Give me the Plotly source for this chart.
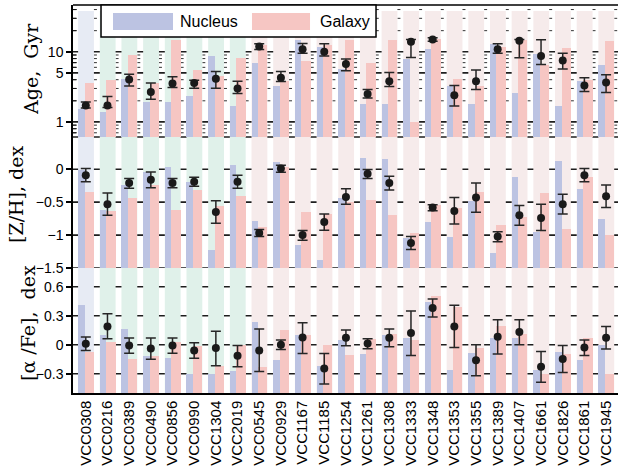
import math
import plotly.graph_objects as go
from plotly.subplots import make_subplots

galaxies = ["VCC0308", "VCC0216", "VCC0389", "VCC0490", "VCC0856", "VCC0990", "VCC1304",
            "VCC2019", "VCC0545", "VCC0929", "VCC1167", "VCC1185", "VCC1254", "VCC1261",
            "VCC1308", "VCC1333", "VCC1348", "VCC1353", "VCC1355", "VCC1389", "VCC1407",
            "VCC1661", "VCC1826", "VCC1861", "VCC1945"]
groups = ["a"] + ["b"] * 7 + ["c"] * 17

# Age, Gyr
age_nuc = [1.55, 1.39, 4.07, 1.93, 1.93, 2.33, 8.68, 1.68, 6.97, 3.24, 14.7, 11.7, 5.66,
           1.79, 1.79, 7.87, 10.9, 3.24, 1.79, 12.9, 2.57, 9.18, 1.68, 3.81, 6.45]
age_gal = [3.6, 3.94, 8.97, 3.54, 14.7, 5.48, 4.5, 8.13, 12.5, 3.81, 7.36, 12.5, 14.7,
           6.97, 14.7, 0.99, 15.0, 4.07, 3.24, 11.8, 14.7, 6.45, 11.2, 3.94, 14.4]
age_pt = [1.71, 1.71, 4.04, 2.68, 3.54, 3.6, 4.11, 3.0, 11.9, 4.25, 10.9, 10.0, 6.67,
          2.51, 3.81, 13.9, 15.0, 2.4, 3.81, 10.9, 14.4, 8.68, 7.54, 3.31, 3.66]
age_hi = [1.93, 2.31, 4.8, 3.6, 4.4, 3.94, 5.25, 3.81, 13.0, 5.25, 13.1, 13.0, 7.9,
          2.9, 5.08, 15.0, 15.8, 3.31, 5.48, 13.0, 15.0, 14.9, 9.5, 4.25, 4.69]
age_lo = [1.58, 1.61, 3.24, 2.11, 3.1, 3.03, 3.03, 2.55, 10.8, 3.77, 9.5, 8.7, 5.35,
          2.2, 3.2, 8.3, 14.1, 1.69, 2.9, 9.5, 8.2, 6.6, 5.7, 2.72, 2.63]

# [Z/H], dex
zh_nuc = [-0.01, -0.62, -0.24, -0.04, 0.04, -0.19, -1.23, 0.07, -0.78, 0.11, -1.15, -1.38,
          -0.44, 0.17, 0.16, -1.05, -0.80, -1.03, -0.48, -1.27, -0.12, -0.95, 0.13, -0.30, -0.76]
zh_gal = [-0.34, -0.635, -0.43, -0.24, -0.62, -0.315, -0.56, -0.41, -0.88, 0.03, -0.645,
          -0.68, -0.49, -0.47, -0.70, -0.97, -0.54, -0.59, -0.345, -0.85, -0.73, -0.36,
          -0.91, -0.12, -1.0]
zh_pt = [-0.09, -0.53, -0.21, -0.16, -0.21, -0.19, -0.65, -0.19, -0.97, 0.01, -1.0, -0.80,
         -0.42, -0.07, -0.21, -1.12, -0.58, -0.635, -0.43, -1.02, -0.70, -0.74, -0.53, -0.09, -0.41]
zh_hi = [0.01, -0.36, -0.14, -0.04, -0.14, -0.12, -0.48, -0.09, -0.915, 0.06, -0.93, -0.68,
         -0.295, -0.005, -0.107, -1.02, -0.54, -0.43, -0.21, -0.95, -0.55, -0.53, -0.38, 0.01, -0.24]
zh_lo = [-0.19, -0.70, -0.29, -0.28, -0.28, -0.26, -0.82, -0.29, -1.02, -0.046, -1.08, -0.925,
         -0.53, -0.14, -0.315, -1.22, -0.63, -0.83, -0.655, -1.10, -0.85, -0.93, -0.68, -0.19, -0.58]

# [alpha/Fe], dex
af_nuc = [0.416, 0.097, 0.167, -0.114, -0.135, -0.30, -0.30, -0.27, 0.24, -0.156, 0.097,
          -0.218, 0.052, -0.10, 0.097, 0.073, 0.447, -0.26, -0.083, 0.073, 0.073, -0.26,
          -0.073, -0.156, 0.0]
af_gal = [-0.073, 0.028, -0.146, -0.114, 0.031, -0.01, -0.218, -0.007, -0.229, 0.149, 0.097,
          -0.007, -0.111, 0.062, 0.114, 0.045, 0.50, 0.388, -0.038, 0.19, 0.114, -0.30,
          -0.097, 0.073, -0.30]
af_pt = [0.01, 0.19, -0.007, -0.038, -0.007, -0.059, -0.035, -0.114, -0.059, 0.0, 0.076,
         -0.246, 0.073, 0.014, 0.073, 0.121, 0.38, 0.19, -0.16, 0.083, 0.132, -0.229,
         -0.149, -0.028, 0.073]
af_hi = [0.08, 0.32, 0.07, 0.07, 0.07, 0.02, 0.139, -0.007, 0.163, 0.049, 0.229, -0.09,
         0.153, 0.062, 0.163, 0.35, 0.475, 0.41, 0.0, 0.26, 0.26, -0.069, -0.007, 0.049, 0.19]
af_lo = [-0.06, 0.062, -0.087, -0.15, -0.087, -0.139, -0.218, -0.229, -0.277, -0.049, -0.09,
         -0.406, -0.01, -0.042, -0.021, -0.111, 0.288, -0.028, -0.32, -0.097, 0.0, -0.389,
         -0.288, -0.111, -0.045]

age_ticks = [1, 5, 10]
age_minor = [0.7, 0.8, 0.9, 2, 3, 4, 6, 7, 8, 9, 20, 30, 40]
zh_ticks = [0, -0.5, -1, -1.5]
zh_ticktext = ["0", "\u22120.5", "\u22121", "\u22121.5"]
af_ticks = [0.6, 0.3, 0, -0.3]
af_ticktext = ["0.6", "0.3", "0", "\u22120.3"]

C_NUC = "#BCC3E2"
C_GAL = "#F6C6C3"
SHADE = {"a": "#E7EBF4", "b": "#E0F1EA", "c": "#F6EBEB"}
GRID = "#1e1e1e"
FONT = "Liberation Sans, Arial, sans-serif"

AGE_RANGE = [-0.215, 1.667]
ZH_RANGE = [-1.5, 0.49]
AF_RANGE = [-0.5, 0.795]
XRANGE = [-0.59, 24.55]
COL_L, COL_R = -0.355, 0.375

fig = make_subplots(rows=3, cols=1, shared_xaxes=True, vertical_spacing=0,
                    row_heights=[132, 131, 125])

panels = [
    (1, age_nuc, age_gal, age_pt, age_hi, age_lo, 10 ** AGE_RANGE[0]),
    (2, zh_nuc, zh_gal, zh_pt, zh_hi, zh_lo, ZH_RANGE[0]),
    (3, af_nuc, af_gal, af_pt, af_hi, af_lo, AF_RANGE[0]),
]
for row, nuc, gal, pt, hi, lo, base in panels:
    fig.add_trace(go.Bar(x=galaxies, y=[v - base for v in nuc], base=base,
                         offset=-0.355, width=0.30, marker_color=C_NUC,
                         marker_line_width=0, showlegend=False, name="Nucleus"),
                  row=row, col=1)
    fig.add_trace(go.Bar(x=galaxies, y=[v - base for v in gal], base=base,
                         offset=-0.055, width=0.43, marker_color=C_GAL,
                         marker_line_width=0, showlegend=False, name="Galaxy"),
                  row=row, col=1)
    fig.add_trace(go.Scatter(
        x=galaxies, y=pt, mode="markers",
        marker=dict(color="#1a1a1a", size=8),
        error_y=dict(type="data", symmetric=False,
                     array=[h - p for h, p in zip(hi, pt)],
                     arrayminus=[p - l for p, l in zip(pt, lo)],
                     color="#262626", thickness=1.5, width=5),
        showlegend=False), row=row, col=1)

shapes = []
ax_names = [("x", "y"), ("x2", "y2"), ("x3", "y3")]


def age_dom(v):
    return (math.log10(v) - AGE_RANGE[0]) / (AGE_RANGE[1] - AGE_RANGE[0])


# minor dotted grid (panel 1), only visible in the gaps between columns
gap_edges = [(XRANGE[0], COL_L)] + [(i + COL_R, i + 1 + COL_L) for i in range(len(galaxies))]
for v in age_minor:
    d = age_dom(v)
    for x0, x1 in gap_edges:
        shapes.append(dict(type="line", xref="x", yref="y domain", x0=x0, x1=min(x1, XRANGE[1]),
                           y0=d, y1=d, line=dict(color="#333333", width=1, dash="dot"),
                           layer="below"))
    shapes.append(dict(type="line", xref="x domain", yref="y domain", x0=0, x1=0.007, y0=d, y1=d,
                       line=dict(color="#111111", width=1), layer="below"))
# major grid lines
for v in age_ticks:
    d = age_dom(v)
    shapes.append(dict(type="line", xref="x domain", yref="y domain", x0=0, x1=1, y0=d, y1=d,
                       line=dict(color=GRID, width=1.6), layer="below"))
shapes.append(dict(type="line", xref="x domain", yref="y domain", x0=0, x1=1, y0=0, y1=0,
                   line=dict(color=GRID, width=1.6), layer="below"))
for v in zh_ticks:
    shapes.append(dict(type="line", xref="x2 domain", yref="y2", x0=0, x1=1, y0=v, y1=v,
                       line=dict(color=GRID, width=1.6), layer="below"))
for v in af_ticks:
    shapes.append(dict(type="line", xref="x3 domain", yref="y3", x0=0, x1=1, y0=v, y1=v,
                       line=dict(color=GRID, width=1.6), layer="below"))

# column shading
for p, (xa, ya) in enumerate(ax_names):
    top = 0.955 if p == 0 else 1.0
    for i, g in enumerate(groups):
        shapes.append(dict(type="rect", xref=xa, yref=ya + " domain",
                           x0=i + COL_L, x1=i + COL_R, y0=0, y1=top,
                           fillcolor=SHADE[g], line=dict(width=0), layer="below"))

# top border
shapes.append(dict(type="line", xref="x domain", yref="y domain", x0=0, x1=1, y0=1, y1=1,
                   line=dict(color="black", width=1.5), layer="above"))

# legend box
shapes.append(dict(type="rect", xref="paper", yref="paper", x0=0.0514, x1=0.556,
                   y0=0.9175, y1=1.0, fillcolor="white",
                   line=dict(color="black", width=1.5), layer="above"))
shapes.append(dict(type="rect", xref="paper", yref="paper", x0=0.0734, x1=0.1835,
                   y0=0.9356, y1=0.9794, fillcolor=C_NUC, line=dict(width=0), layer="above"))
shapes.append(dict(type="rect", xref="paper", yref="paper", x0=0.3284, x1=0.4349,
                   y0=0.9356, y1=0.9794, fillcolor=C_GAL, line=dict(width=0), layer="above"))

annotations = [
    dict(text="Nucleus", xref="paper", yref="paper", x=0.1927, y=0.9575, xanchor="left",
         yanchor="middle", showarrow=False, font=dict(family=FONT, size=16, color="black")),
    dict(text="Galaxy", xref="paper", yref="paper", x=0.4495, y=0.9575, xanchor="left",
         yanchor="middle", showarrow=False, font=dict(family=FONT, size=16, color="black")),
]
TFONT = dict(family="DejaVu Serif, Liberation Serif, serif", size=19, color="black")
for txt, x, y in [("Age,  Gyr", -0.0771, 0.835),
                  ("[Z/H], dex", -0.1037, 0.5116),
                  ("[\u03b1 /Fe],  dex", -0.0826, 0.1804)]:
    annotations.append(dict(text=txt, xref="paper", yref="paper", x=x, y=y, textangle=-90,
                            xanchor="center", yanchor="middle", showarrow=False, font=TFONT))

fig.update_layout(
    width=618, height=471,
    margin=dict(l=73, r=0, t=5, b=78),
    plot_bgcolor="white", paper_bgcolor="white",
    barmode="overlay", bargap=0,
    shapes=shapes, annotations=annotations,
    font=dict(family=FONT, size=15, color="black"),
)

common_x = dict(range=XRANGE, showgrid=False, zeroline=False, ticks="",
                type="category", categoryorder="array", categoryarray=galaxies)
fig.update_xaxes(**common_x)
fig.update_xaxes(showticklabels=False, row=1, col=1)
fig.update_xaxes(showticklabels=False, row=2, col=1)
fig.update_xaxes(showticklabels=True, tickangle=-90, showline=True, linecolor="black",
                 linewidth=1.5, tickfont=dict(family=FONT, size=15, color="black"),
                 row=3, col=1)

common_y = dict(showgrid=False, zeroline=False, showline=True, linecolor="black",
                linewidth=1.5, ticks="outside", ticklen=5, tickwidth=1.5, tickcolor="black",
                tickfont=dict(family=FONT, size=14, color="black"))
fig.update_yaxes(type="log", range=AGE_RANGE, tickvals=age_ticks,
                 ticktext=[str(v) for v in age_ticks], row=1, col=1, **common_y)
fig.update_yaxes(range=ZH_RANGE, tickvals=zh_ticks, ticktext=zh_ticktext,
                 row=2, col=1, **common_y)
fig.update_yaxes(range=AF_RANGE, tickvals=af_ticks, ticktext=af_ticktext,
                 row=3, col=1, **common_y)

fig.write_html("out.html")
